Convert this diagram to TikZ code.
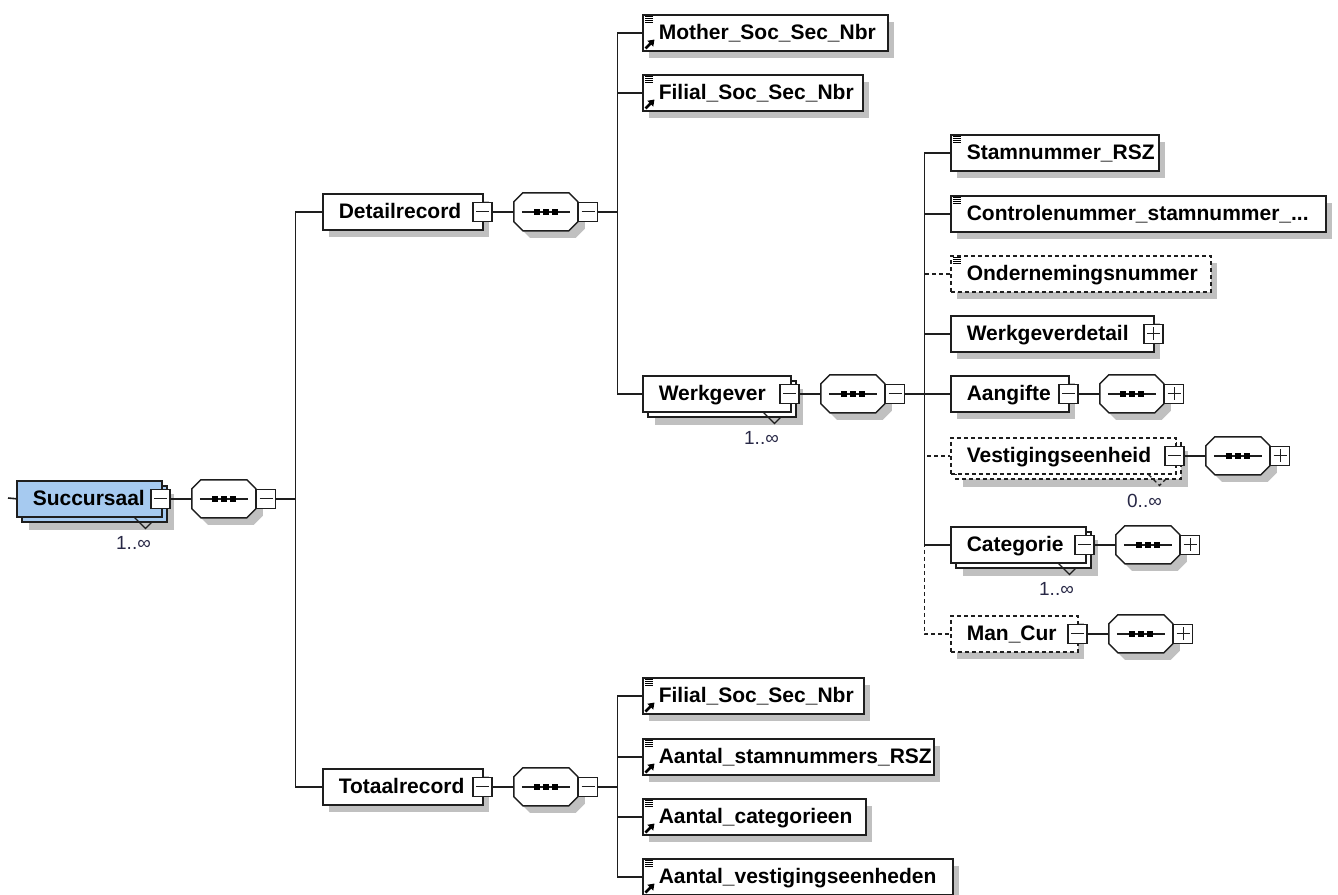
\documentclass[tikz,border=0pt]{standalone}
\usepackage{fontspec}
\setmainfont{Liberation Sans}
\usetikzlibrary{arrows.meta}
\definecolor{shd}{RGB}{192,192,192}
\definecolor{succblue}{RGB}{166,202,240}
\definecolor{occc}{RGB}{40,40,70}
\definecolor{ink}{RGB}{30,30,30}
\newcommand\efont{\fontsize{21}{24}\selectfont\bfseries}
\tikzset{
  elem/.style={draw=ink, line width=1.5pt, fill=white, rectangle, inner xsep=16pt, inner ysep=0pt,
    anchor=north west, minimum height=36pt, text height=16pt, text depth=2pt, align=left, font=\efont},
  dsh/.style={dash pattern=on 4pt off 3pt},
  backbox/.style={draw=ink, line width=1.5pt, fill=white},
  tgbox/.style={draw=ink, line width=1.3pt, fill=white, rectangle, inner sep=0pt,
    minimum width=19pt, minimum height=19pt},
  tgminus/.style={tgbox, path picture={\draw[line width=1.2pt]
      ([xshift=3pt]path picture bounding box.west) -- ([xshift=-3pt]path picture bounding box.east);}},
  tgplus/.style={tgbox, path picture={\draw[line width=1.2pt]
      ([xshift=3pt]path picture bounding box.west) -- ([xshift=-3pt]path picture bounding box.east)
      ([yshift=-3pt]path picture bounding box.north) -- ([yshift=3pt]path picture bounding box.south);}},
  seqbox/.style={rectangle, inner sep=0pt, minimum width=64pt, minimum height=38pt, draw=none},
  conn/.style={draw=ink, line width=1.6pt},
  occlbl/.style={font=\fontsize{19}{22}\selectfont, text=occc, inner sep=0pt},
  chevl/.style={draw=ink, line width=1.2pt},
}
% element with shadow: #1 extra style, #2 name, #3 x, #4 y, #5 width, #6 text
\newcommand\elemnode[6]{%
  \fill[shd] ({#3+7},{#4+8}) rectangle ++(#5,36);
  \pgfmathsetmacro\tw{#5-32}%
  \node[elem,#1,text width=\tw pt] (#2) at (#3,#4) {#6};
}
% repeated element: #1 extra draw style, #2 name, #3 x, #4 y, #5 width, #6 text
\newcommand\multinode[6]{%
  \fill[shd] ({#3+13},{#4+14}) rectangle ++(#5,36);
  \draw[backbox,#1] ({#3+6},{#4+6}) rectangle ++(#5,36);
  \pgfmathsetmacro\tw{#5-32}%
  \node[elem,#1,text width=\tw pt] (#2) at (#3,#4) {#6};
}
% sequence compositor: #1 name, #2 preceding toggle, #3 toggle style
\newcommand\seqsym[3]{%
  \node[seqbox, anchor=west] (#1) at ([xshift=21pt]#2.east) {};
  \begin{scope}[shift={(#1.center)}]
    \fill[shd] (-16,-12) -- (30,-12) -- (39,-3) -- (39,17) -- (30,26) -- (-16,26) -- (-25,17) -- (-25,-3) -- cycle;
    \draw[fill=white,draw=ink,line width=1.5pt] (-23,-19) -- (23,-19) -- (32,-10) -- (32,10) -- (23,19) -- (-23,19) -- (-32,10) -- (-32,-10) -- cycle;
    \draw[ink,line width=1.5pt] (-24,0) -- (24,0);
    \fill (-12,-3) rectangle ++(6,6);
    \fill (-3,-3) rectangle ++(6,6);
    \fill (6,-3) rectangle ++(6,6);
  \end{scope}
  \node[#3, anchor=west] (#1-t) at (#1.east) {};
}
\newcommand\lineicon[1]{%
  \foreach \k in {2.5,4.5,6.5,8.5}{\draw[line width=1pt] ([shift={(3,\k)}]#1.north west) -- ++(8,0);}}
\newcommand\reficon[1]{%
  \draw[line width=2.6pt,-{Triangle[length=6pt,width=8pt]}] ([shift={(3.5,34.5)}]#1.north west) -- ++(9,-9);}
\newcommand\chev[2][]{%
  \draw[chevl,#1] ([xshift=-28pt]#2.south east) -- ++(11,11) -- ++(6,-6);}

\begin{document}
\begin{tikzpicture}[x=1pt,y=-1pt]
\useasboundingbox (0,0) rectangle (1338,894);

% ---------- root ----------
\multinode{fill=succblue}{succ}{16}{480}{145}{Succursaal}
\chev{succ}
\node[tgminus] (succ-t) at ([xshift=-2pt]succ.east) {};
\node[occlbl] (succ-o) at ([shift={(-29,25)}]succ.south east) {1..∞};
\seqsym{sseq}{succ-t}{tgminus}
\coordinate (rootin) at (8,498);

% ---------- Detailrecord ----------
\elemnode{}{detail}{322}{193}{160}{Detailrecord}
\node[tgminus] (detail-t) at ([xshift=-1pt]detail.east) {};
\seqsym{dseq}{detail-t}{tgminus}

\elemnode{}{mother}{642}{14}{245}{Mother\_Soc\_Sec\_Nbr}
\lineicon{mother}\reficon{mother}
\elemnode{}{filA}{642}{74}{220}{Filial\_Soc\_Sec\_Nbr}
\lineicon{filA}\reficon{filA}

% ---------- Werkgever ----------
\multinode{}{werk}{642}{375}{148}{Werkgever}
\chev{werk}
\node[tgminus] (werk-t) at ([xshift=-2pt]werk.east) {};
\node[occlbl] (werk-o) at ([shift={(-30,25)}]werk.south east) {1..∞};
\seqsym{wseq}{werk-t}{tgminus}

\elemnode{}{stam}{950}{134}{208}{Stamnummer\_RSZ}
\lineicon{stam}
\elemnode{}{contr}{950}{195}{375}{Controlenummer\_stamnummer\_...}
\lineicon{contr}
\elemnode{dsh}{onder}{950}{255}{260}{Ondernemingsnummer}
\lineicon{onder}
\elemnode{}{wdet}{950}{315}{203}{Werkgeverdetail}
\node[tgplus] (wdet-t) at ([xshift=-1pt]wdet.east) {};
\elemnode{}{aang}{950}{375}{118}{Aangifte}
\node[tgminus] (aang-t) at ([xshift=-1pt]aang.east) {};
\seqsym{aseq}{aang-t}{tgplus}

\multinode{dsh}{vest}{950}{437}{225}{Vestigingseenheid}
\chev[dsh]{vest}
\node[tgminus] (vest-t) at ([xshift=-2pt]vest.east) {};
\node[occlbl] (vest-o) at ([shift={(-32,26)}]vest.south east) {0..∞};
\seqsym{vseq}{vest-t}{tgplus}

\multinode{}{cat}{950}{526}{135}{Categorie}
\chev{cat}
\node[tgminus] (cat-t) at ([xshift=-2pt]cat.east) {};
\node[occlbl] (cat-o) at ([shift={(-30,25)}]cat.south east) {1..∞};
\seqsym{cseq}{cat-t}{tgplus}

\elemnode{dsh}{mancur}{950}{615}{127}{Man\_Cur}
\node[tgminus] (mancur-t) at ([xshift=-1pt]mancur.east) {};
\seqsym{mseq}{mancur-t}{tgplus}

% ---------- Totaalrecord ----------
\elemnode{}{total}{322}{768}{160}{Totaalrecord}
\node[tgminus] (total-t) at ([xshift=-1pt]total.east) {};
\seqsym{tseq}{total-t}{tgminus}

\elemnode{}{filB}{642}{677}{221}{Filial\_Soc\_Sec\_Nbr}
\lineicon{filB}\reficon{filB}
\elemnode{}{astam}{642}{738}{291}{Aantal\_stamnummers\_RSZ}
\lineicon{astam}\reficon{astam}
\elemnode{}{acat}{642}{798}{223}{Aantal\_categorieen}
\lineicon{acat}\reficon{acat}
\elemnode{}{avest}{642}{858}{310}{Aantal\_vestigingseenheden}
\lineicon{avest}\reficon{avest}

% ---------- connectors ----------
\draw[conn] (rootin) -- (succ.west);
\draw[conn] (succ-t.east) -- (sseq.west);
\draw[conn] (sseq-t.east) -- ++(19,0) |- (detail.west);
\draw[conn] (sseq-t.east) -- ++(19,0) |- (total.west);

\draw[conn] (detail-t.east) -- (dseq.west);
\draw[conn] (dseq-t.east) -- ++(19,0) |- (mother.west);
\draw[conn] (dseq-t.east) -- ++(19,0) |- (filA.west);
\draw[conn] (dseq-t.east) -- ++(19,0) |- (werk.west);

\draw[conn] (werk-t.east) -- (wseq.west);
\draw[conn] (wseq-t.east) -- ++(19,0) |- (stam.west);
\draw[conn] (wseq-t.east) -- ++(19,0) |- (contr.west);
\draw[conn,dsh] (wseq-t.east) -- ++(19,0) |- (onder.west);
\draw[conn] (wseq-t.east) -- ++(19,0) |- (wdet.west);
\draw[conn] (wseq-t.east) -- ++(19,0) |- (aang.west);
\draw[conn,dsh] (wseq-t.east) -- ++(19,0) |- (vest.west);
\draw[conn] (wseq-t.east) -- ++(19,0) |- (cat.west);
\draw[conn,dsh] (wseq-t.east) -- ++(19,0) |- (mancur.west);

\draw[conn] (aang-t.east) -- (aseq.west);
\draw[conn] (vest-t.east) -- (vseq.west);
\draw[conn] (cat-t.east) -- (cseq.west);
\draw[conn] (mancur-t.east) -- (mseq.west);

\draw[conn] (total-t.east) -- (tseq.west);
\draw[conn] (tseq-t.east) -- ++(19,0) |- (filB.west);
\draw[conn] (tseq-t.east) -- ++(19,0) |- (astam.west);
\draw[conn] (tseq-t.east) -- ++(19,0) |- (acat.west);
\draw[conn] (tseq-t.east) -- ++(19,0) |- (avest.west);
\end{tikzpicture}
\end{document}
